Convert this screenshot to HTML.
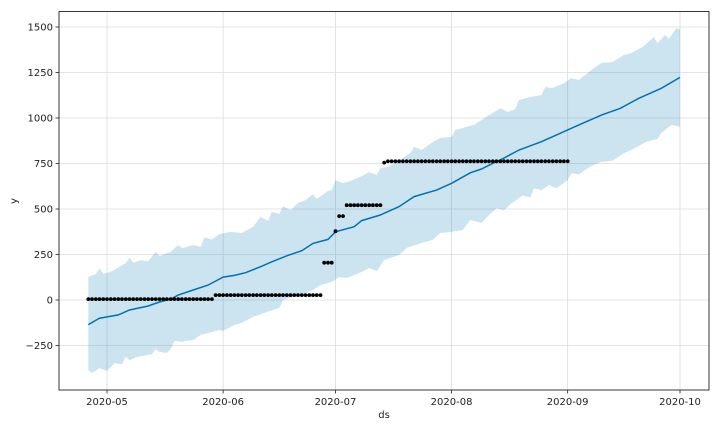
<!DOCTYPE html>
<html><head><meta charset="utf-8"><style>
body{margin:0;background:#fff}
svg{display:block;font-family:"DejaVu Sans","Liberation Sans",sans-serif}
</style></head><body>
<svg id="chart" width="720" height="432" viewBox="0 0 720 432">
<g id="grid"></g>
<g id="band"></g>
<g id="line"></g>
<g id="pts"></g>
<g id="axes"></g>
</svg>
<script>
// day offsets relative to 2020-04-26
const xTickLabels = ["2020-05","2020-06","2020-07","2020-08","2020-09","2020-10"];
const xTickDays = [5,36,66,97,128,158];
const yTicks = [-250,0,250,500,750,1000,1250,1500];
const actualValues = [5,5,5,5,5,5,5,5,5,5,5,5,5,5,5,5,5,5,5,5,5,5,5,5,5,5,5,5,5,5,5,5,5,5,
27,27,27,27,27,27,27,27,27,27,27,27,27,27,27,27,27,27,27,27,27,27,27,27,27,27,27,27,27,
205,205,205,378,461,461,
521,521,521,521,521,521,521,521,521,521,
755,762,762,762,762,762,762,762,762,762,762,762,762,762,762,762,762,762,762,762,762,762,762,762,762,
762,762,762,762,762,762,762,762,762,762,762,762,762,762,762,762,762,762,762,762,762,762,762,762,762];
const forecastDays = [0,3,8,11,16,19,22,24,28,32,36,39,42,46,49,53,57,60,64,66,71,73,78,83,87,93,97,102,105,108,110,115,121,126,131,137,142,147,153,158];
const forecastValues = [-135,-100,-82,-55,-33,-11,5,27,55,82,126,135,150,183,210,243,271,311,333,375,403,436,467,513,568,604,641,699,720,751,769,824,870,916,962,1016,1053,1108,1163,1223];
const upperDays = [0,2,3,4,6,10,11,12,14,16,18,19,22,24,25,28,30,31,33,35,38,41,44,46,48,49,51,52,54,56,58,60,61,64,65,66,68,70,73,75,77,78,80,84,86,87,89,92,94,97,98,101,103,105,107,110,112,114,115,118,121,122,124,127,129,131,135,137,140,143,145,148,151,152,154,155,157,158];
const upperValues = [126,143,175,143,155,203,233,205,218,214,265,242,265,302,285,302,292,345,333,362,374,368,402,456,434,484,473,516,494,533,549,582,555,599,604,659,643,654,681,703,687,725,731,780,808,841,824,868,890,896,934,951,962,989,1016,1054,1033,1049,1099,1115,1126,1170,1165,1192,1219,1209,1274,1302,1307,1346,1357,1390,1445,1411,1456,1434,1493,1488];
const lowerDays = [0,1,3,5,7,9,10,11,13,17,18,19,21,22,23,25,26,28,30,33,35,36,39,41,44,47,51,52,56,58,60,62,65,67,69,73,75,77,79,83,85,89,92,94,97,100,102,105,107,109,111,113,116,118,119,121,123,125,128,129,131,134,137,140,143,145,149,152,153,155,156,158];
const lowerValues = [-385,-401,-374,-390,-348,-352,-312,-330,-313,-297,-270,-285,-291,-270,-225,-230,-225,-220,-192,-176,-165,-170,-137,-126,-93,-71,-44,0,27,38,55,82,99,126,121,154,176,159,220,247,286,313,330,368,374,385,440,423,467,504,494,531,574,563,613,604,632,613,659,696,690,733,760,765,806,824,870,885,918,951,962,951];

const NS="http://www.w3.org/2000/svg";
const L=59,R=709,T=11.5,B=390;
const X=d=>88.3+d*3.745;
const Y=v=>300-v*0.182;
function mk(tag,attrs,parent){const e=document.createElementNS(NS,tag);for(const k in attrs)e.setAttribute(k,attrs[k]);parent.appendChild(e);return e;}
const grid=document.getElementById('grid'),axes=document.getElementById('axes');
yTicks.forEach(v=>{
  const g=mk('line',{x1:L,x2:R,y1:Y(v),y2:Y(v),stroke:'#dcdcdc','stroke-width':0.8},grid);
  
  
  const tk=mk('line',{x1:L-3.5,x2:L,y1:Y(v),y2:Y(v),stroke:'#222','stroke-width':0.8},axes);
  
  
  const t=mk('text',{x:L-6,y:Y(v)+3.5,'text-anchor':'end','font-size':10,fill:'#222'},axes);
  t.textContent=(v<0?'\u2212'+Math.abs(v):v);
  
  
});
xTickDays.forEach((d,i)=>{
  const g=mk('line',{x1:X(d),x2:X(d),y1:T,y2:B,stroke:'#dcdcdc','stroke-width':0.8},grid);
  
  
  const tk=mk('line',{x1:X(d),x2:X(d),y1:B,y2:B+3.5,stroke:'#222','stroke-width':0.8},axes);
  
  
  const t=mk('text',{x:X(d),y:405,'text-anchor':'middle','font-size':10,fill:'#222'},axes);
  t.textContent=xTickLabels[i];
  
  
});
// band
let pts=upperDays.map((d,i)=>X(d).toFixed(1)+','+Y(upperValues[i]).toFixed(1));
for(let i=lowerDays.length-1;i>=0;i--)pts.push(X(lowerDays[i]).toFixed(1)+','+Y(lowerValues[i]).toFixed(1));
const band=mk('polygon',{points:pts.join(' '),fill:'#0072B2','fill-opacity':0.2,stroke:'none'},document.getElementById('band'));


// line
const ln=mk('polyline',{points:forecastDays.map((d,i)=>X(d).toFixed(1)+','+Y(forecastValues[i]).toFixed(1)).join(' '),fill:'none',stroke:'#0072B2','stroke-width':1.5},document.getElementById('line'));


// points
const pg=document.getElementById('pts');
actualValues.forEach((v,i)=>{
  const c=mk('circle',{cx:X(i).toFixed(1),cy:Y(v).toFixed(1),r:1.9,fill:'#000'},pg);
  
  
});
// frame
const fr=mk('rect',{x:L,y:T,width:R-L,height:B-T,fill:'none',stroke:'#222','stroke-width':0.9},axes);


const xl=mk('text',{x:384,y:418,'text-anchor':'middle','font-size':10,fill:'#222'},axes);
xl.textContent='ds';


const yl=mk('text',{x:17,y:201,'text-anchor':'middle','font-size':10,fill:'#222',transform:'rotate(-90 17 201)'},axes);
yl.textContent='y';


</script>
</body></html>
